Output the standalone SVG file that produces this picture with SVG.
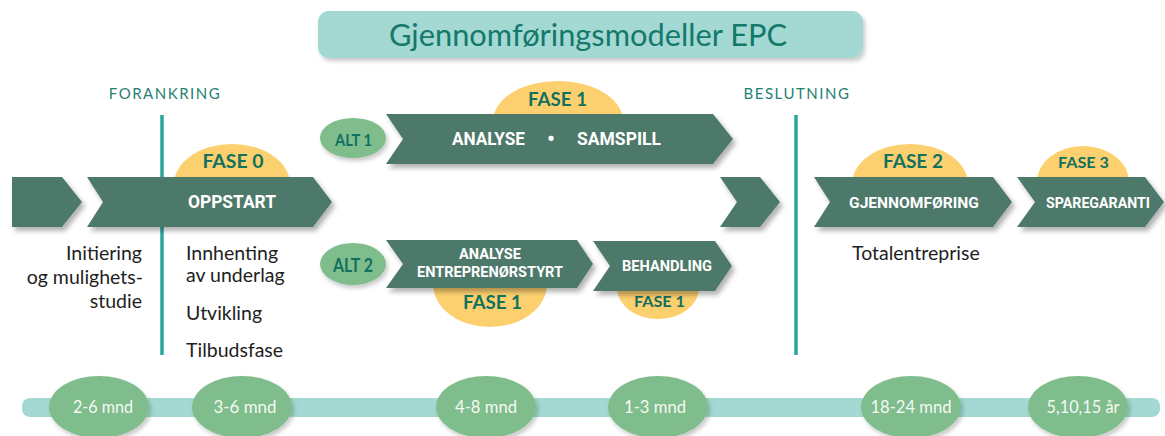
<svg xmlns="http://www.w3.org/2000/svg" width="1165" height="436" viewBox="0 0 1165 436">
<defs>
<filter id="sh" x="-10%" y="-20%" width="130%" height="160%">
<feDropShadow dx="3" dy="4" stdDeviation="2.5" flood-color="#000" flood-opacity="0.3"/>
</filter>
<filter id="sh2" x="-10%" y="-20%" width="130%" height="160%">
<feDropShadow dx="2" dy="3" stdDeviation="2" flood-color="#000" flood-opacity="0.22"/>
</filter>
<style>
.chev{fill:#4e796a;filter:url(#sh)}
.sun{fill:#fdd06f}
.pill{fill:#80bd8d;filter:url(#sh2)}
.fase{font-family:Lato,"Roboto","Liberation Sans",sans-serif;font-weight:700;fill:#12705f;text-anchor:middle}
.lbl{font-family:Roboto,Lato,"Liberation Sans",sans-serif;font-weight:700;fill:#ffffff;text-anchor:middle}
.cap{font-family:Lato,"Liberation Sans",sans-serif;font-weight:400;fill:#1f7f73;font-size:15px;letter-spacing:1.5px;text-anchor:middle}
.body{font-family:Lato,"Liberation Sans",sans-serif;font-size:19.5px;fill:#1e1e1e}
.dur{font-family:Lato,"Liberation Sans",sans-serif;font-weight:400;font-size:18px;fill:#f5f9f3;text-anchor:middle}
.div{stroke:#2ba59a;stroke-width:3.5;fill:none}
</style>
</defs>

<g id="title">
<rect x="318" y="11" width="545" height="47" rx="11" fill="#a4d8d3" filter="url(#sh2)"/>
<text x="588" y="46" font-family="Lato,'Liberation Sans',sans-serif" font-size="30" fill="#13796b" text-anchor="middle" textLength="398" lengthAdjust="spacingAndGlyphs">Gjennomføringsmodeller EPC</text>
</g>

<g id="connectors">
<rect x="22" y="398" width="1138" height="19" rx="8" fill="#a4d8d3"/>
<line class="div" x1="162" y1="115" x2="162" y2="355"/>
<line class="div" x1="796" y1="115" x2="796" y2="355"/>
</g>

<g id="forankring"><text class="cap" x="165" y="99">FORANKRING</text></g>
<g id="beslutning"><text class="cap" x="797" y="99">BESLUTNING</text></g>

<g id="start">
<polygon class="chev" points="12,177 62,177 82,202 62,227 12,227"/>
</g>

<g id="oppstart">
<ellipse class="sun" cx="232" cy="184" rx="58" ry="40"/>
<text class="fase" x="233" y="168" font-size="18" textLength="61" lengthAdjust="spacingAndGlyphs">FASE 0</text>
<polygon class="chev" points="87,177 313,177 332,202 313,227 87,227 103,202"/>
<text class="lbl" x="232" y="208" font-size="18" textLength="88" lengthAdjust="spacingAndGlyphs">OPPSTART</text>
</g>

<g id="initiering">
<text class="body" text-anchor="end" x="142" y="260">Initiering</text>
<text class="body" text-anchor="end" x="143" y="284">og mulighets-</text>
<text class="body" text-anchor="end" x="142" y="308">studie</text>
</g>

<g id="innhenting">
<text class="body" x="186" y="260">Innhenting</text>
<text class="body" x="186" y="282">av underlag</text>
<text class="body" x="186" y="320">Utvikling</text>
<text class="body" x="186" y="357">Tilbudsfase</text>
</g>

<g id="alt1">
<ellipse class="pill" cx="353" cy="138" rx="33" ry="20"/>
<text class="fase" x="353.5" y="146" font-size="17" textLength="37" lengthAdjust="spacingAndGlyphs">ALT 1</text>
</g>

<g id="analyse-samspill">
<ellipse class="sun" cx="558" cy="121" rx="65" ry="40"/>
<text class="fase" x="557.5" y="106" font-size="18" textLength="59" lengthAdjust="spacingAndGlyphs">FASE 1</text>
<polygon class="chev" points="386,114 713,114 733,139 713,164 386,164 403,139"/>
<text class="lbl" x="488.5" y="145" font-size="18.5" textLength="73" lengthAdjust="spacingAndGlyphs">ANALYSE</text>
<text class="lbl" x="551" y="146" font-size="22">•</text>
<text class="lbl" x="619" y="145" font-size="18.5" textLength="84" lengthAdjust="spacingAndGlyphs">SAMSPILL</text>
</g>

<g id="alt2">
<ellipse class="pill" cx="353" cy="264" rx="33" ry="21"/>
<text class="fase" x="353" y="272" font-size="18" textLength="40" lengthAdjust="spacingAndGlyphs">ALT 2</text>
</g>

<g id="analyse-entreprenorstyrt">
<ellipse class="sun" cx="490" cy="284" rx="57" ry="43"/>
<text class="fase" x="492.5" y="309" font-size="19" textLength="59" lengthAdjust="spacingAndGlyphs">FASE 1</text>
<polygon class="chev" points="386,240 577,240 593,264 577,288 386,288 403,264"/>
<text class="lbl" x="490" y="259" font-size="14" textLength="62" lengthAdjust="spacingAndGlyphs">ANALYSE</text>
<text class="lbl" x="490" y="277" font-size="14" textLength="146" lengthAdjust="spacingAndGlyphs">ENTREPRENØRSTYRT</text>
</g>

<g id="behandling">
<ellipse class="sun" cx="658" cy="288" rx="41" ry="31"/>
<text class="fase" x="659.5" y="307" font-size="15" textLength="51" lengthAdjust="spacingAndGlyphs">FASE 1</text>
<polygon class="chev" points="593,241 715,241 732,266 715,291 593,291 610,266"/>
<text class="lbl" x="667" y="271" font-size="15" textLength="90" lengthAdjust="spacingAndGlyphs">BEHANDLING</text>
</g>

<g id="merge">
<polygon class="chev" points="720,177 760,177 780,202 760,227 720,227 737,202"/>
</g>

<g id="gjennomforing">
<ellipse class="sun" cx="910" cy="184" rx="58" ry="40"/>
<text class="fase" x="913" y="168" font-size="18" textLength="60" lengthAdjust="spacingAndGlyphs">FASE 2</text>
<polygon class="chev" points="814,177 993,177 1012,202 993,227 814,227 830,202"/>
<text class="lbl" x="914" y="208" font-size="15.5" textLength="130" lengthAdjust="spacingAndGlyphs">GJENNOMFØRING</text>
</g>

<g id="totalentreprise">
<text class="body" x="852" y="260">Totalentreprise</text>
</g>

<g id="sparegaranti">
<ellipse class="sun" cx="1083" cy="182" rx="46" ry="36"/>
<text class="fase" x="1083.5" y="168" font-size="14.5" textLength="51" lengthAdjust="spacingAndGlyphs">FASE 3</text>
<polygon class="chev" points="1017,177 1145,177 1164,202 1145,227 1017,227 1035,202"/>
<text class="lbl" x="1098" y="208" font-size="15" textLength="104" lengthAdjust="spacingAndGlyphs">SPAREGARANTI</text>
</g>

<g id="d1"><ellipse class="pill" cx="99" cy="407" rx="50" ry="31"/><text class="dur" x="103" y="413" textLength="60" lengthAdjust="spacingAndGlyphs">2-6 mnd</text></g>
<g id="d2"><ellipse class="pill" cx="242" cy="407" rx="50" ry="31"/><text class="dur" x="245" y="413" textLength="63" lengthAdjust="spacingAndGlyphs">3-6 mnd</text></g>
<g id="d3"><ellipse class="pill" cx="486" cy="407" rx="50" ry="31"/><text class="dur" x="486" y="413" textLength="62" lengthAdjust="spacingAndGlyphs">4-8 mnd</text></g>
<g id="d4"><ellipse class="pill" cx="658" cy="407" rx="50" ry="31"/><text class="dur" x="655" y="413" textLength="62" lengthAdjust="spacingAndGlyphs">1-3 mnd</text></g>
<g id="d5"><ellipse class="pill" cx="911" cy="407" rx="50" ry="31"/><text class="dur" x="911" y="413" textLength="81" lengthAdjust="spacingAndGlyphs">18-24 mnd</text></g>
<g id="d6"><ellipse class="pill" cx="1078" cy="407" rx="50" ry="31"/><text class="dur" x="1083" y="413" textLength="73" lengthAdjust="spacingAndGlyphs">5,10,15 år</text></g>
</svg>
